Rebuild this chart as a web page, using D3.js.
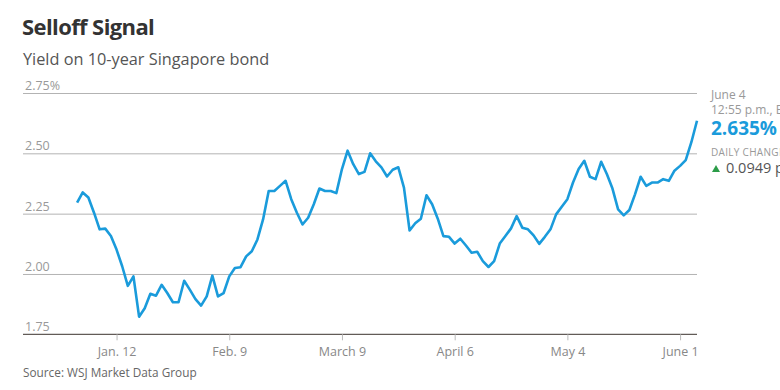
<!DOCTYPE html>
<html>
<head>
<meta charset="utf-8">
<script src="https://cdn.jsdelivr.net/npm/d3@7"></script>
<style>
  body { margin: 0; background: #fff; }
  svg { display: block; font-family: "Open Sans", sans-serif; }
</style>
</head>
<body>
<div id="vis"></div>
<script>
// ************************** DATA **************************//

// one value per weekday, from Jan. 1 to June 4, 2015
var startDate = new Date(2015, 0, 1);
var endDate = new Date(2015, 5, 4);

var yields = [
  2.296, 2.338, 2.317, 2.254, 2.185, 2.188, 2.157, 2.101, 2.032, 1.951,
  1.990, 1.823, 1.858, 1.918, 1.910, 1.955, 1.921, 1.883, 1.883, 1.972,
  1.935, 1.896, 1.869, 1.907, 1.993, 1.907, 1.921, 1.990, 2.025, 2.028,
  2.073, 2.094, 2.143, 2.226, 2.344, 2.344, 2.365, 2.386, 2.310, 2.254,
  2.205, 2.233, 2.289, 2.354, 2.344, 2.344, 2.335, 2.435, 2.511, 2.455,
  2.414, 2.423, 2.500, 2.467, 2.442, 2.404, 2.432, 2.442, 2.358, 2.180,
  2.210, 2.229, 2.326, 2.289, 2.229, 2.157, 2.154, 2.126, 2.146, 2.118,
  2.088, 2.092, 2.053, 2.029, 2.053, 2.126, 2.157, 2.189, 2.240, 2.192,
  2.185, 2.160, 2.125, 2.154, 2.185, 2.247, 2.279, 2.310, 2.379, 2.435,
  2.469, 2.403, 2.393, 2.465, 2.414, 2.354, 2.268, 2.243, 2.265, 2.330,
  2.403, 2.365, 2.379, 2.379, 2.393, 2.386, 2.428, 2.448, 2.472, 2.546,
  2.635
];

var yTicks = [1.75, 2.00, 2.25, 2.50, 2.75];
var xTickDates = [
  new Date(2015, 0, 12), new Date(2015, 1, 9), new Date(2015, 2, 9),
  new Date(2015, 3, 6), new Date(2015, 4, 4), new Date(2015, 5, 1)
];
var xTickLabels = ["Jan. 12", "Feb. 9", "March 9", "April 6", "May 4", "June 1"];

var lastLabel = ["June 4", "12:55 p.m., EDT", "2.635%", "DAILY CHANGE", "0.0949 pct. pt."];

// trading days only, so weekends take no room on the x axis
var days = d3.timeDay.range(startDate, d3.timeDay.offset(endDate, 1))
  .filter(d => d.getDay() !== 0 && d.getDay() !== 6);

var data = days.map((d, i) => ({ date: d, index: i, value: yields[i] }));

function dayIndex(date) {
  return days.findIndex(d => +d === +date);
}

// ************************** SCALES **************************//

var width = 780, height = 390;
var left = 23, right = 697;

var x = d3.scaleLinear()
  .domain([-9.6, 110])
  .range([left, right]);

var y = d3.scaleLinear()
  .domain([1.75, 2.75])
  .range([334.3, 93]);

var blue = "#1a9bdb";

// ************************** DRAW **************************//

var svg = d3.select("#vis")
  .append("svg")
  .attr("width", width)
  .attr("height", height);

svg.append("text")
  .attr("x", 22).attr("y", 35)
  .attr("font-size", 22).attr("font-weight", "bold")
  .attr("letter-spacing", -0.6)
  .attr("fill", "#333")
  .text("Selloff Signal");

svg.append("text")
  .attr("x", 23).attr("y", 65)
  .attr("font-size", 16.3).attr("fill", "#555")
  .text("Yield on 10-year Singapore bond");

// gridlines + labels
svg.append("g")
  .attr("transform", `translate(${left},0)`)
  .call(d3.axisRight(y).tickValues(yTicks.slice(1)).tickSize(right - left).tickFormat(""))
  .call(g => g.select(".domain").remove())
  .call(g => g.selectAll(".tick line").attr("stroke", "#b3b3b3"));

svg.append("g")
  .selectAll("text")
  .data(yTicks)
  .join("text")
  .attr("x", left + 2)
  .attr("y", d => y(d) - 3)
  .attr("font-size", 12.5)
  .attr("fill", "#999")
  .text(d => d === 2.75 ? d3.format(".2f")(d) + "%" : d3.format(".2f")(d));

// x axis
svg.append("g")
  .attr("transform", `translate(0,${y(1.75)})`)
  .call(d3.axisBottom(x)
    .tickValues(xTickDates.map(dayIndex))
    .tickSize(6)
    .tickSizeOuter(0)
    .tickFormat((d, i) => xTickLabels[i]))
  .call(g => g.select(".domain").attr("stroke", "#3b332e").attr("d", `M${left},0H${right}`))
  .call(g => g.selectAll(".tick line").attr("stroke", "#bbb"))
  .call(g => g.selectAll(".tick text")
    .attr("font-family", "Open Sans, sans-serif")
    .attr("font-size", 12.5)
    .attr("fill", "#888")
    .attr("dy", "1.0em"));

// the line
var line = d3.line()
  .x(d => x(d.index))
  .y(d => y(d.value));

svg.append("path")
  .datum(data)
  .attr("fill", "none")
  .attr("stroke", blue)
  .attr("stroke-width", 2.6)
  .attr("stroke-linejoin", "round")
  .attr("d", line);

// latest value box on the right
var box = svg.append("g").attr("transform", "translate(711,0)");

box.append("text").attr("y", 99).attr("font-size", 12).attr("fill", "#999").text(lastLabel[0]);
box.append("text").attr("y", 114).attr("font-size", 12).attr("fill", "#999").text(lastLabel[1]);
box.append("text").attr("y", 135).attr("font-size", 19).attr("font-weight", "bold")
  .attr("fill", blue).text(lastLabel[2]);
box.append("text").attr("y", 156).attr("font-size", 10).attr("fill", "#999")
  .attr("letter-spacing", 0.3).text(lastLabel[3]);
box.append("path").attr("d", "M1,172L5,165L9,172Z").attr("fill", "#2c9c48");
box.append("text").attr("x", 15).attr("y", 173).attr("font-size", 14.5).attr("fill", "#555").text(lastLabel[4]);

svg.append("text")
  .attr("x", 23).attr("y", 377)
  .attr("font-size", 11.8).attr("fill", "#666")
  .text("Source: WSJ Market Data Group");
</script>
</body>
</html>
